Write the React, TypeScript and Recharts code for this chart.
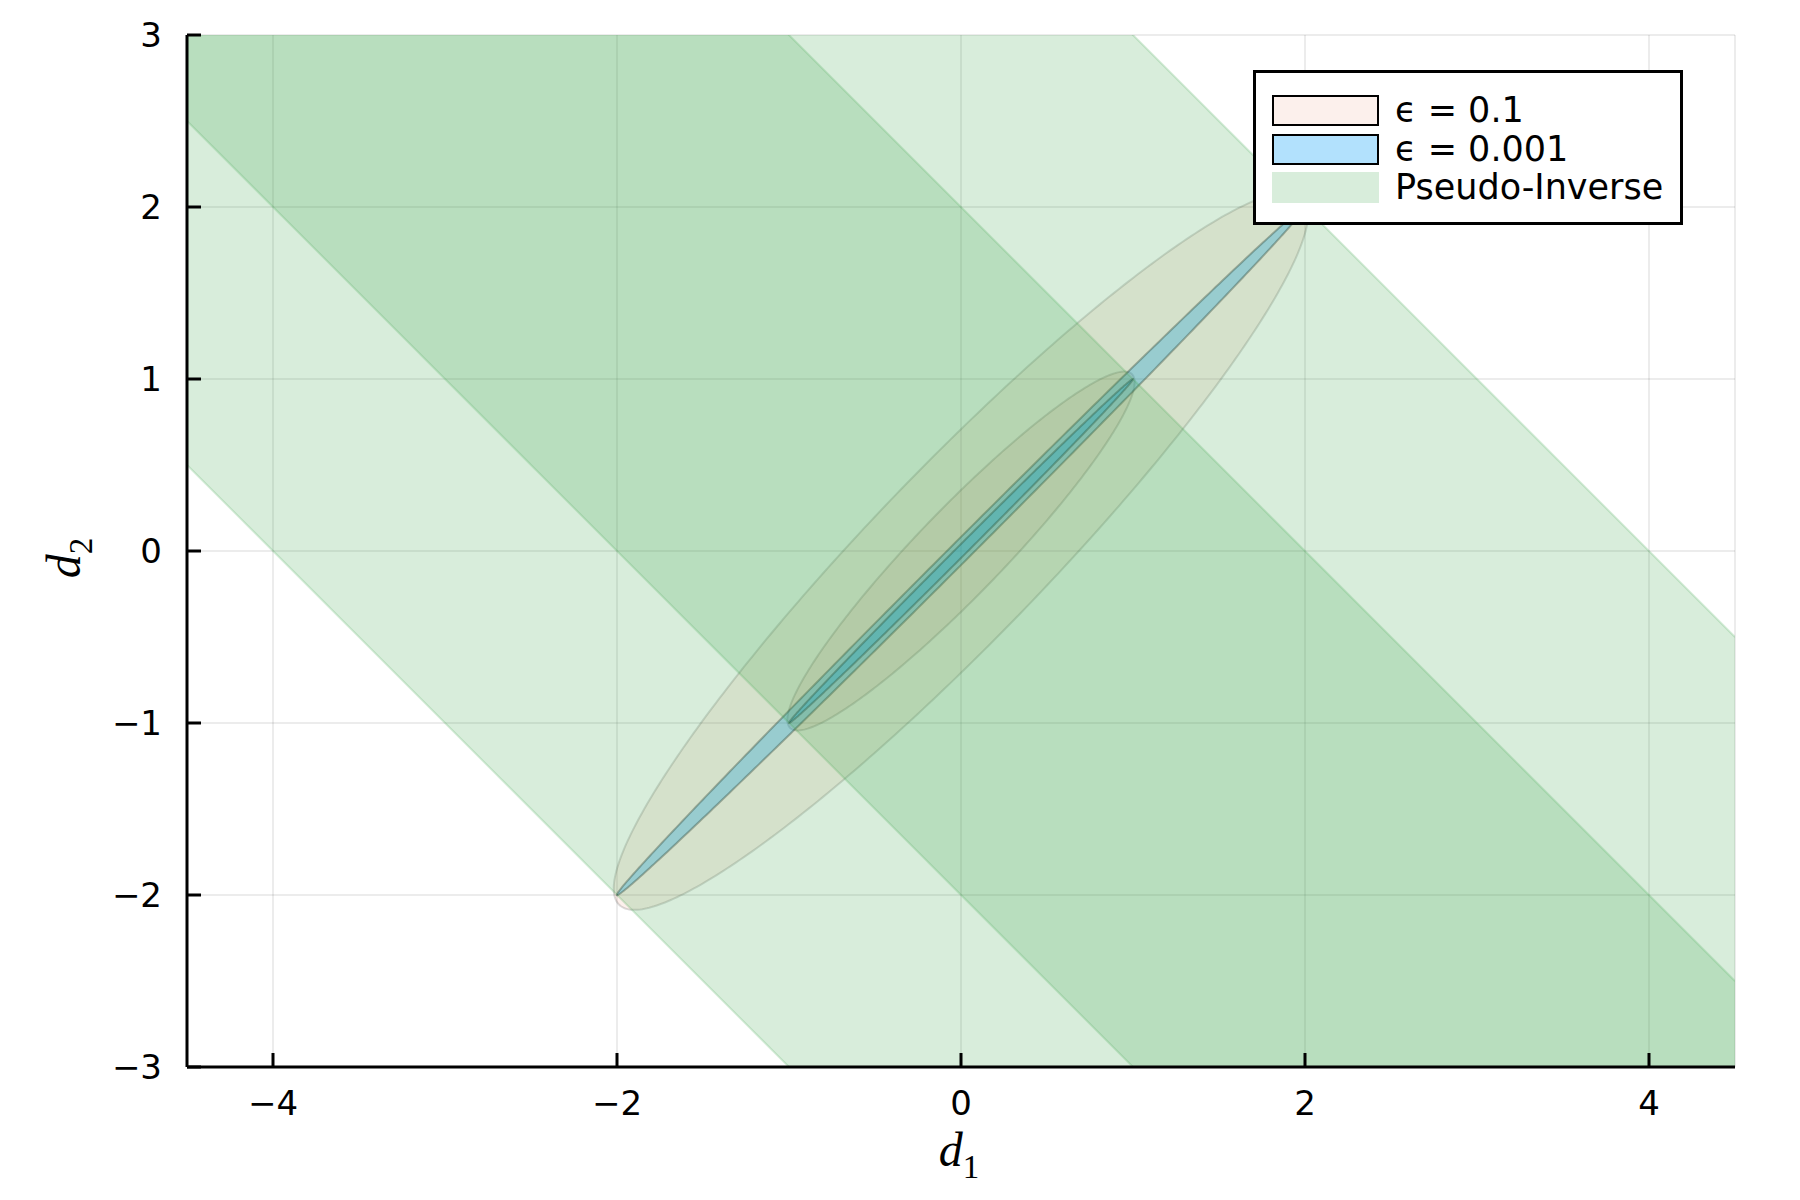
import React from 'react';
import { ComposedChart, Area, XAxis, YAxis, CartesianGrid, Legend, Label } from 'recharts';

// axes
const xTicks = [-4, -2, 0, 2, 4];
const yTicks = [-3, -2, -1, 0, 1, 2, 3];
const xDomain = [-4.5, 4.5];
const yDomain = [-3, 3];

// pseudo-inverse bands: region where d1 + d2 lies between the two sums
const bandSums = [
  [-4, 2],
  [-2, 4],
];
const bandEdgesX = [-4.5, 4.5];

// ellipses: semi-major axes, semi-minor axes, tilt (deg), centred at origin
const ellipseCentre = [0, 0];
const majorEps1 = [2.86, 1.43];
const minorEps1 = [0.5, 0.25];
const tiltEps1 = 46;
const majorEps001 = [2.83, 1.414];
const minorEps001 = [0.058, 0.029];
const tiltEps001 = 45;

const legendLabels = ['\u03f5 = 0.1', '\u03f5 = 0.001', 'Pseudo-Inverse'];

const ORANGE = '#e26f46';
const BLUE = '#009af9';
const GREEN = '#3da44d';
const legendFills = ['rgba(226,111,70,0.1)', 'rgba(0,154,249,0.3)', 'rgba(61,164,77,0.2)'];

const FONT = "'DejaVu Sans', sans-serif";
const MATH_FONT = "'Liberation Serif', 'DejaVu Serif', serif";

const bandData = (sums: number[]) =>
  bandEdgesX.map(x => ({ x, range: [sums[0] - x, sums[1] - x] }));

// outline of a tilted ellipse as a lower/upper range over x
function ellipseData(a: number, b: number, deg: number, steps = 200) {
  const [cx, cy] = ellipseCentre;
  const t = (deg * Math.PI) / 180;
  const c = Math.cos(t);
  const s = Math.sin(t);
  const A = (s * s) / (a * a) + (c * c) / (b * b);
  const half = Math.sqrt(a * a * c * c + b * b * s * s);
  const rows: { x: number; range: number[] }[] = [];
  for (let k = 0; k <= steps; k++) {
    const dx = -half * Math.cos((Math.PI * k) / steps);
    const B = 2 * dx * c * s * (1 / (a * a) - 1 / (b * b));
    const C = dx * dx * ((c * c) / (a * a) + (s * s) / (b * b)) - 1;
    const r = Math.sqrt(Math.max(0, B * B - 4 * A * C));
    rows.push({ x: cx + dx, range: [cy + (-B - r) / (2 * A), cy + (-B + r) / (2 * A)] });
  }
  return rows;
}

const fmt = (v: number) => (v < 0 ? '\u2212' + Math.abs(v) : String(v));

const XTitle = (props: any) => {
  const { x, y, width } = props.viewBox;
  return (
    <text x={x + width / 2 - 2} y={y + 99} textAnchor="middle" fontFamily={MATH_FONT} fontStyle="italic" fontSize={48} fill="#000">
      d<tspan fontStyle="normal" fontSize={33} dy={12}>1</tspan>
    </text>
  );
};

const YTitle = (props: any) => {
  const { x, y, height } = props.viewBox;
  const tx = x + 80;
  const ty = y + height / 2 + 7;
  return (
    <text x={tx} y={ty} transform={`rotate(-90, ${tx}, ${ty})`} textAnchor="middle" fontFamily={MATH_FONT} fontStyle="italic" fontSize={48} fill="#000">
      d<tspan fontStyle="normal" fontSize={33} dy={12}>2</tspan>
    </text>
  );
};

const renderLegend = () => (
  <div
    style={{
      boxSizing: 'border-box',
      width: 430,
      height: 155,
      border: '3px solid #000',
      background: '#fff',
      padding: '18px 0 0 16px',
      fontFamily: FONT,
      fontSize: 35,
      color: '#000',
    }}
  >
    {legendLabels.map((label, i) => (
      <div key={label} style={{ display: 'flex', alignItems: 'center', height: 38.7 }}>
        <div
          style={{
            boxSizing: 'border-box',
            width: 107,
            height: 31,
            background: legendFills[i],
            border: i < 2 ? '2px solid #000' : 'none',
            marginRight: 16,
          }}
        />
        <span style={{ lineHeight: 1 }}>{label}</span>
      </div>
    ))}
  </div>
);

const shapeProps = {
  type: 'linear' as const,
  dataKey: 'range',
  dot: false,
  activeDot: false,
  isAnimationActive: false,
  legendType: 'none' as const,
};

export default function App() {
  return (
    <div style={{ position: 'absolute', left: 0, top: 0, width: 1800, height: 1200, background: '#fff' }}>
      <ComposedChart width={1800} height={1200} margin={{ top: 35, right: 65, bottom: 0, left: 0 }}>
        <CartesianGrid stroke="#000" strokeOpacity={0.1} strokeWidth={1.5} />
        <XAxis
          type="number"
          dataKey="x"
          domain={xDomain}
          ticks={xTicks}
          interval={0}
          allowDataOverflow
          height={133}
          tickFormatter={fmt}
          tickSize={-14}
          tickMargin={38}
          axisLine={{ stroke: '#000', strokeWidth: 3 }}
          tickLine={{ stroke: '#000', strokeWidth: 3 }}
          tick={{ fontSize: 34, fill: '#000', fontFamily: FONT }}
        >
          <Label content={XTitle} />
        </XAxis>
        <YAxis
          type="number"
          domain={yDomain}
          ticks={yTicks}
          interval={0}
          allowDataOverflow
          width={187}
          tickFormatter={fmt}
          tickSize={-14}
          tickMargin={39}
          axisLine={{ stroke: '#000', strokeWidth: 3 }}
          tickLine={{ stroke: '#000', strokeWidth: 3 }}
          tick={{ fontSize: 34, fill: '#000', fontFamily: FONT }}
        >
          <Label content={YTitle} />
        </YAxis>

        {majorEps1.map((a, i) => (
          <Area
            key={'e1-' + i}
            {...shapeProps}
            data={ellipseData(a, minorEps1[i], tiltEps1)}
            fill={ORANGE}
            fillOpacity={0.1}
            stroke="#000"
            strokeOpacity={0.14}
            strokeWidth={2}
          />
        ))}
        {majorEps001.map((a, i) => (
          <Area
            key={'e2-' + i}
            {...shapeProps}
            data={ellipseData(a, minorEps001[i], tiltEps001)}
            fill={BLUE}
            fillOpacity={0.3}
            stroke="#000"
            strokeOpacity={0.3}
            strokeWidth={2}
          />
        ))}
        {bandSums.map((sums, i) => (
          <Area
            key={'band-' + i}
            {...shapeProps}
            data={bandData(sums)}
            fill={GREEN}
            fillOpacity={0.2}
            stroke={GREEN}
            strokeOpacity={0.2}
            strokeWidth={2}
          />
        ))}

        <Legend
          content={renderLegend}
          layout="horizontal"
          verticalAlign="middle"
          align="center"
          wrapperStyle={{ left: 1253, top: 70, width: 430, height: 155 }}
        />
      </ComposedChart>
    </div>
  );
}
